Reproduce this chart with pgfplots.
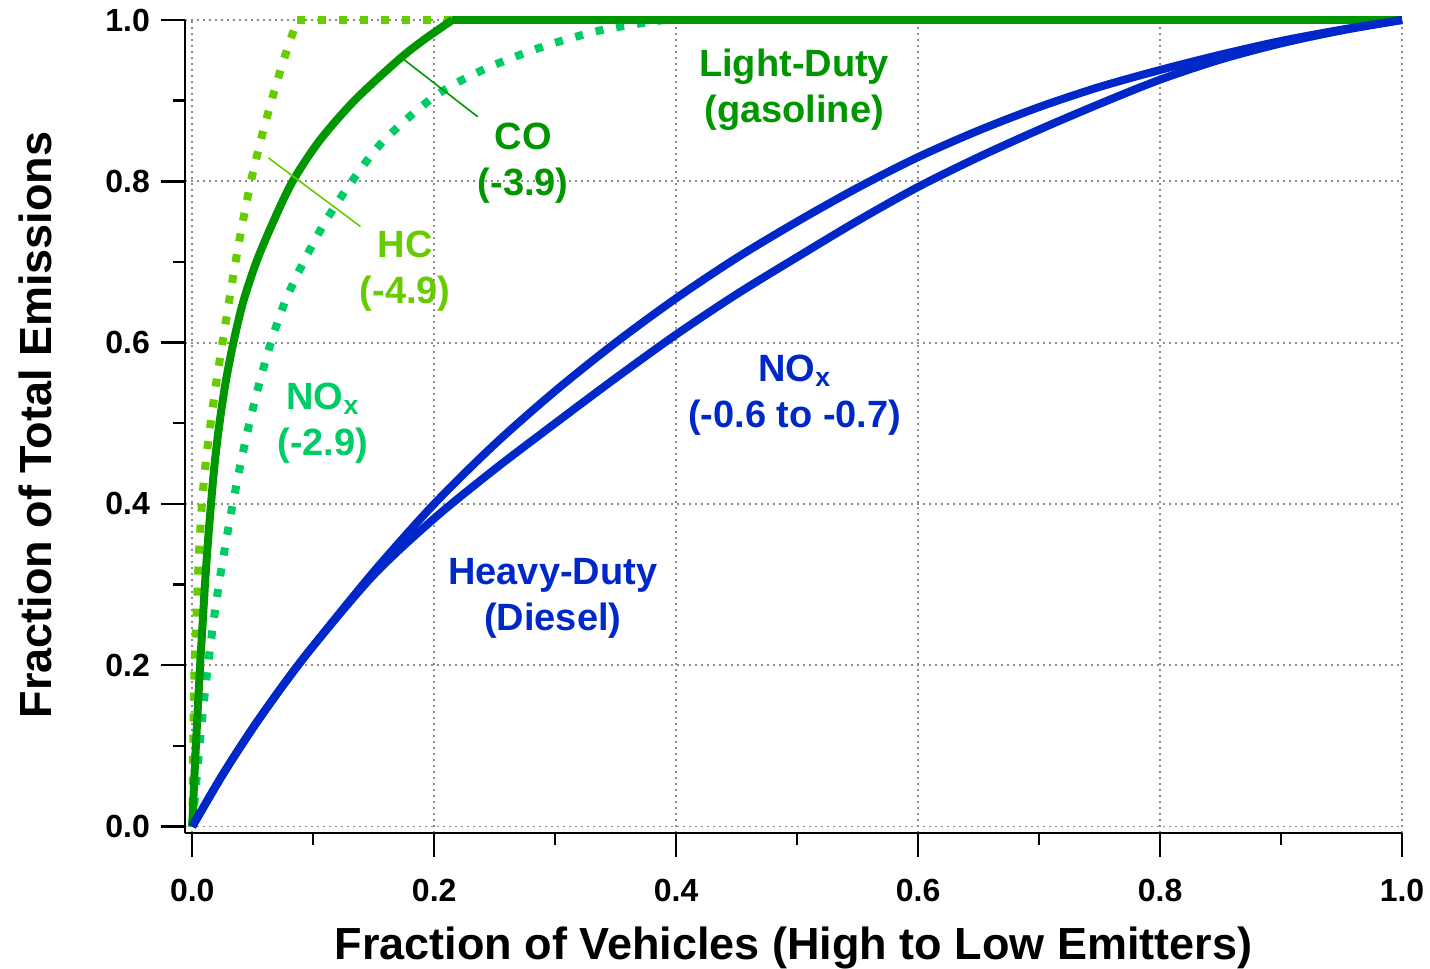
\documentclass[border=0pt]{standalone}
\usepackage{fontspec}
\setmainfont{Liberation Sans}
\usepackage{pgfplots}
\pgfplotsset{compat=1.18}

\definecolor{coGreen}{RGB}{0,150,0}
\definecolor{hcGreen}{RGB}{102,204,0}
\definecolor{noxGreen}{RGB}{0,204,102}
\definecolor{hdBlue}{RGB}{0,40,200}
\definecolor{gridGray}{RGB}{140,140,140}

\begin{document}
\begin{tikzpicture}
\begin{axis}[
  scale only axis, width=608.5pt, height=406.5pt,
  xmin=-0.006, xmax=1, ymin=-0.008, ymax=1,
  clip=false,
  axis x line=bottom, axis y line=left,
  axis line style={-, line width=1.2pt, black},
  xtick={0,0.2,0.4,0.6,0.8,1.0}, ytick={0,0.2,0.4,0.6,0.8,1.0},
  minor xtick={0.1,0.3,0.5,0.7,0.9}, minor ytick={0.1,0.3,0.5,0.7,0.9},
  tick align=outside, major tick length=12pt, minor tick length=6pt,
  every tick/.style={line width=1.2pt, black},
  grid=major,
  major grid style={gridGray, line width=0.9pt, dash pattern=on 0.9pt off 2.1pt},
  /pgf/number format/.cd, fixed, fixed zerofill, precision=1, assume math mode=true,
  /pgfplots/.cd,
  tick label style={font=\bfseries\fontsize{16}{19}\selectfont},
  xticklabel style={anchor=center, yshift=-16.5pt},
  yticklabel style={anchor=east, xshift=-2pt},
  xlabel={Fraction of Vehicles (High to Low Emitters)},
  ylabel={Fraction of Total Emissions},
  every axis x label/.style={at={(axis description cs:0.5,0)}, anchor=center,
    yshift=-57.5pt, font=\bfseries\fontsize{22.5}{26}\selectfont},
  every axis y label/.style={at={(axis description cs:0,0.502)}, anchor=center,
    rotate=90, yshift=75pt, font=\bfseries\fontsize{22.5}{26}\selectfont},
  curve/.style={line width=4pt, smooth, line join=round},
  dashed curve/.style={line width=4pt, smooth, dash pattern=on 4pt off 6.5pt},
]

% Light-duty NOx (dashed)
\addplot[noxGreen, dashed curve] coordinates {
  (0,0) (0.003,0.05) (0.006,0.1) (0.0093,0.15) (0.013,0.2) (0.0172,0.25)
  (0.022,0.3) (0.0275,0.35) (0.0335,0.4) (0.040,0.45) (0.0472,0.5)
  (0.0555,0.55) (0.065,0.6) (0.0765,0.65) (0.092,0.7) (0.110,0.75)
  (0.132,0.8) (0.158,0.85) (0.2,0.905) (0.24,0.938) (0.29,0.967)
  (0.34,0.988) (0.39,1.0)};
\addplot[noxGreen, dashed curve] coordinates {(0.39,1.0) (1,1)};

% Light-duty HC (dashed)
\addplot[hcGreen, dashed curve] coordinates {
  (0,0) (0.0008,0.1) (0.002,0.2) (0.0045,0.3) (0.006,0.35) (0.008,0.4)
  (0.011,0.45) (0.0152,0.5) (0.0198,0.55) (0.025,0.6) (0.0303,0.65)
  (0.0358,0.7) (0.0418,0.75) (0.0485,0.8) (0.0565,0.85) (0.0655,0.9)
  (0.0755,0.95) (0.0868,1.0)};
\addplot[hcGreen, dashed curve] coordinates {(0.0868,1.0) (1,1)};

% Light-duty CO (solid)
\addplot[coGreen, curve] coordinates {
  (0,0) (0.0014,0.05) (0.003,0.1) (0.0047,0.15) (0.0065,0.2) (0.0085,0.25)
  (0.0105,0.3) (0.0128,0.35) (0.0155,0.4) (0.0185,0.45) (0.0225,0.5)
  (0.0275,0.55) (0.034,0.6) (0.042,0.65) (0.053,0.7) (0.067,0.75)
  (0.083,0.8) (0.105,0.85) (0.134,0.9) (0.170,0.95) (0.191,0.975)
  (0.215,1.0)};
\addplot[coGreen, curve] coordinates {(0.215,1.0) (1,1)};

% Heavy-duty NOx (two fleets)
\addplot[hdBlue, curve] coordinates {
  (0,0) (0.025,0.064) (0.05,0.122) (0.075,0.175) (0.1,0.224) (0.15,0.316)
  (0.2,0.400) (0.25,0.474) (0.3,0.540) (0.35,0.600) (0.4,0.655) (0.45,0.705)
  (0.5,0.750) (0.55,0.792) (0.6,0.830) (0.65,0.863) (0.7,0.892) (0.75,0.917)
  (0.8,0.938) (0.85,0.957) (0.9,0.974) (0.95,0.988) (1,1)};
\addplot[hdBlue, curve] coordinates {
  (0,0) (0.025,0.064) (0.05,0.122) (0.075,0.175) (0.1,0.224) (0.15,0.312)
  (0.2,0.382) (0.25,0.443) (0.3,0.500) (0.35,0.556) (0.4,0.610) (0.45,0.660)
  (0.5,0.706) (0.55,0.751) (0.6,0.793) (0.65,0.830) (0.7,0.864) (0.75,0.896)
  (0.8,0.926) (0.85,0.951) (0.9,0.971) (0.95,0.987) (1,1)};

% leader lines
\draw[coGreen, line width=0.8pt] (axis cs:0.174,0.952) -- (axis cs:0.236,0.880);
\draw[hcGreen, line width=0.8pt] (axis cs:0.063,0.829) -- (axis cs:0.139,0.744);

% labels
\tikzset{lbl/.style={font=\bfseries\fontsize{19}{23}\selectfont, align=center}}
\node[lbl, text=coGreen] at (axis cs:0.4975,0.913) {Light-Duty\\(gasoline)};
\node[lbl, text=coGreen] at (axis cs:0.2736,0.823) {CO\\(-3.9)};
\node[lbl, text=hcGreen] at (axis cs:0.176,0.689) {HC\\(-4.9)};
\node[lbl, text=noxGreen] at (axis cs:0.108,0.50) {NO\textsubscript{x}\\(-2.9)};
\node[lbl, text=hdBlue] at (axis cs:0.498,0.535) {NO\textsubscript{x}\\(-0.6 to -0.7)};
\node[lbl, text=hdBlue] at (axis cs:0.298,0.2825) {Heavy-Duty\\(Diesel)};
\end{axis}
\pgfresetboundingbox
\useasboundingbox (-92.5pt,-68pt) rectangle (622.5pt,416.5pt);
\end{tikzpicture}
\end{document}
